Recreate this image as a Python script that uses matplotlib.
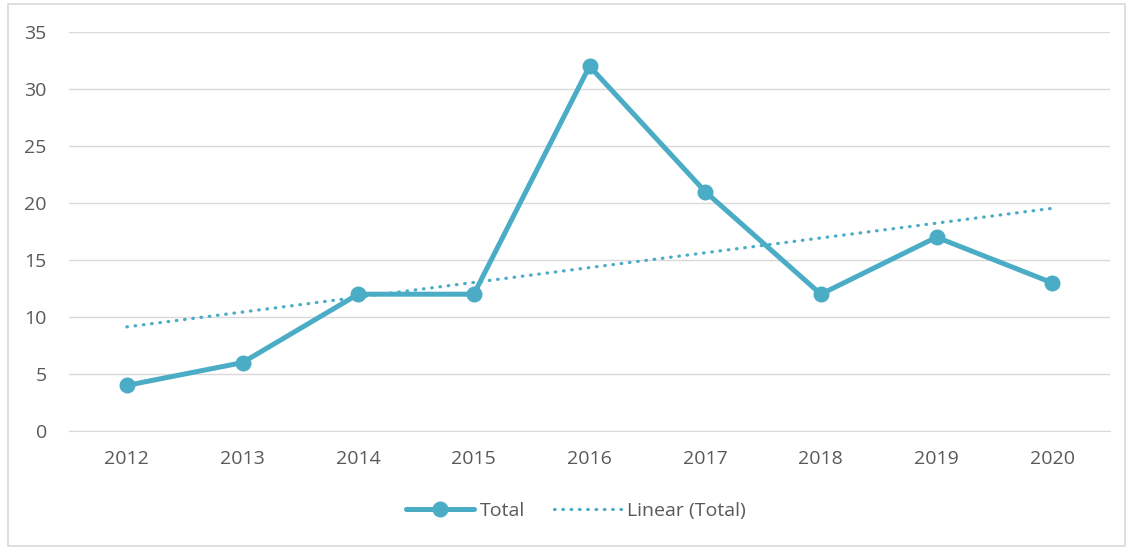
import numpy as np
import matplotlib.pyplot as plt
from matplotlib.patches import Rectangle

years  = ['2012', '2013', '2014', '2015', '2016', '2017', '2018', '2019', '2020']
totals = [4, 6, 12, 12, 32, 21, 12, 17, 13]

color = '#4BACC6'
grey  = '#595959'

plt.rcParams['font.family'] = ['Open Sans', 'DejaVu Sans']

fig = plt.figure(figsize=(11.3, 5.48), dpi=100)
fig.patches.append(Rectangle((8/1130, 2/548), 1117/1130, 542/548, transform=fig.transFigure,
                             fill=False, edgecolor='#D9D9D9', linewidth=1.2))

ax = fig.add_axes([69/1130, 1-431/548, (1110-69)/1130, (431-32)/548])

x = np.arange(len(years))
ax.plot(x, totals, color=color, linewidth=3.6, marker='o', markersize=10.5,
        solid_capstyle='round', solid_joinstyle='round', label='Total')

# linear trend line
k, b = np.polyfit(x, totals, 1)
ax.plot(x, k*x + b, color=color, linewidth=2.3, linestyle=(0, (0.2, 2.4)),
        dash_capstyle='round', label='Linear (Total)')

ax.set_xlim(-0.5, len(years) - 0.5)
ax.set_ylim(0, 35)
ax.set_yticks(range(0, 36, 5))
ax.set_xticks(x)
ax.set_xticklabels(years)
ax.grid(axis='y', color='#D9D9D9', linewidth=1)
ax.set_axisbelow(True)
for s in ['top', 'right', 'left']:
    ax.spines[s].set_visible(False)
ax.spines['bottom'].set_color('#D9D9D9')
ax.tick_params(length=0, colors=grey, labelsize=14)
ax.tick_params(axis='y', pad=16)
ax.tick_params(axis='x', pad=14)

leg = ax.legend(loc='center', bbox_to_anchor=(0.487, -0.2), ncol=2, frameon=False,
                fontsize=14, handlelength=3.45, columnspacing=1.5, handletextpad=0.3)
for t in leg.get_texts():
    t.set_color(grey)

fig.savefig('out.png', dpi=100)
